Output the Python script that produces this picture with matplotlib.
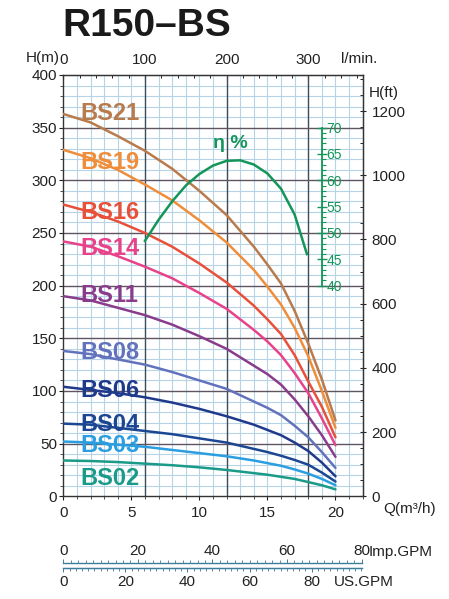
import numpy as np
import matplotlib
matplotlib.use("Agg")
import matplotlib.pyplot as plt
from matplotlib.ticker import MultipleLocator, FixedLocator

plt.rcParams['font.family'] = ['Liberation Sans', 'DejaVu Sans']

# ---------------- data ----------------
flow_q = [0, 2, 4, 6, 8, 10, 12, 14, 15, 16, 17, 18, 19, 20]          # m3/h
models = ["BS21", "BS19", "BS16", "BS14", "BS11", "BS08", "BS06", "BS04", "BS03", "BS02"]
head_bs21 = [363, 355, 342, 328, 311, 290, 267, 237, 220, 202, 176, 145, 111, 72]
head_bs19 = [329, 321, 310, 296, 281, 262, 241, 215, 199, 182, 160, 133, 100, 65]
head_bs16 = [277, 270, 261, 250, 237, 221, 203, 181, 168, 154, 134, 109, 85, 56]
head_bs14 = [242, 237, 228, 218, 207, 193, 178, 158, 147, 134, 117, 98, 74, 48.5]
head_bs11 = [190, 186, 179, 172, 163, 152, 140, 124, 116, 106, 92, 76, 58, 37.5]
head_bs08 = [138, 135, 130, 125, 118, 110, 102, 90, 84, 77, 67, 56, 42, 27]
head_bs06 = [104, 101, 98, 94, 89, 83, 76, 68, 63, 58, 51, 43, 32, 19]
head_bs04 = [69, 68, 65, 62, 59, 55, 51, 45, 42, 38.5, 34.5, 30, 22.5, 14]
head_bs03 = [52, 51, 49, 47, 44, 41, 38, 34, 31.5, 29, 25.5, 21.5, 16.5, 10.5]
head_bs02 = [34, 33.5, 32.5, 31, 29.5, 27.5, 25, 22, 20.5, 18.5, 16.5, 13.5, 10.5, 6.6]
heads = [head_bs21, head_bs19, head_bs16, head_bs14, head_bs11,
         head_bs08, head_bs06, head_bs04, head_bs03, head_bs02]

eff_q = [6, 7, 8, 9, 10, 11, 12, 13, 14, 15, 16, 17, 17.9]
eff_pct = [48.5, 52.5, 56.0, 59.0, 61.2, 62.8, 63.7, 63.8, 63.0, 61.3, 58.4, 53.5, 46.0]

x_ticks = [0, 5, 10, 15, 20]
y_ticks = [0, 50, 100, 150, 200, 250, 300, 350, 400]
lmin_ticks = [0, 100, 200, 300]
ft_ticks = [0, 200, 400, 600, 800, 1000, 1200]
eff_ticks = [40, 45, 50, 55, 60, 65, 70]
imp_ticks = [0, 20, 40, 60, 80]
us_ticks = [0, 20, 40, 60, 80]

# ---------------- style ----------------
colors = ['#b97a4c', '#f08d3a', '#e8503a', '#e8428a', '#8a3c8c',
          '#6272bc', '#1f3a8c', '#1c4692', '#2a9ee0', '#1a9a88']
label_pos = [(1.25, 363), (1.25, 317), (1.25, 269), (1.25, 235), (1.25, 191),
             (1.25, 137), (1.25, 100), (1.25, 68), (1.25, 48), (1.25, 17)]
green = '#14965a'

W, H = 449, 599
fig = plt.figure(figsize=(W / 100, H / 100), dpi=100)
L, R = 63.3 / W, 362.7 / W
B, T = 1 - 496.3 / H, 1 - 75 / H
ax = fig.add_axes([L, B, R - L, T - B])
ax.set_xlim(0, 22)
ax.set_ylim(0, 400)

# grid
for q in range(1, 22):
    if q % 6 == 0:
        ax.axvline(q, color='#3c4c58', lw=1.0, zorder=1)
    else:
        ax.axvline(q, color='#b6d4e6', lw=0.8, zorder=0.5)
for h in range(10, 400, 10):
    if h % 50 == 0:
        ax.axhline(h, color='#5e5560', lw=1.0, zorder=1)
    else:
        ax.axhline(h, color='#b6d4e6', lw=0.8, zorder=0.5)

for sp in ax.spines.values():
    sp.set_color('#333333')
    sp.set_linewidth(1.0)

ax.xaxis.set_major_locator(FixedLocator(x_ticks))
ax.xaxis.set_minor_locator(MultipleLocator(1))
ax.yaxis.set_major_locator(FixedLocator(y_ticks))
ax.yaxis.set_minor_locator(MultipleLocator(10))
ax.tick_params(axis='both', which='major', direction='out', length=3, width=0.8,
               labelsize=11, colors='#222222')
ax.tick_params(axis='both', which='minor', direction='out', length=2, width=0.6, colors='#333333')
ax.tick_params(axis='x', pad=4)
ax.tick_params(axis='y', pad=1.5)

# top l/min axis
top = ax.secondary_xaxis('top', functions=(lambda q: q * 1000 / 60, lambda l: l * 60 / 1000))
top.xaxis.set_major_locator(FixedLocator(lmin_ticks))
top.xaxis.set_minor_locator(MultipleLocator(20))
top.tick_params(which='major', direction='in', length=3, width=0.8, labelsize=11, pad=6, colors='#222222')
top.tick_params(which='minor', direction='in', length=2.5, width=0.6)
top.spines['top'].set_color('#333333')

# right ft axis
right = ax.secondary_yaxis('right', functions=(lambda m: m / 0.3048, lambda f: f * 0.3048))
right.yaxis.set_major_locator(FixedLocator(ft_ticks))
right.yaxis.set_minor_locator(MultipleLocator(50))
right.tick_params(which='major', direction='inout', length=5, width=0.8, labelsize=11, pad=4, colors='#222222')
right.tick_params(which='minor', direction='in', length=2.5, width=0.6)
right.spines['right'].set_color('#333333')

# head curves
for name, hv, c, (lx, ly) in zip(models, heads, colors, label_pos):
    ax.plot(flow_q, hv, color=c, lw=1.8, zorder=3, solid_capstyle='round',
            solid_joinstyle='round')
    ax.text(lx, ly, name, color=c, fontsize=17, fontweight='bold',
            ha='left', va='center', zorder=4)

# efficiency curve on twin axis: eff 0..80 maps to H 0..400
ax_e = ax.twinx()
ax_e.set_ylim(0, 80)
ax_e.axis('off')
ax_e.plot(eff_q, eff_pct, color=green, lw=1.8, zorder=3, solid_joinstyle='round')
ax.text(12.3, 335, "η %", color=green, fontsize=14, fontweight='bold', ha='center', va='center')

# efficiency scale
ex = L + (R - L) * 19.0 / 22
eb = B + (T - B) * 200 / 400
eh = (T - B) * 150 / 400
sc = fig.add_axes([ex - 0.001, eb, 0.001, eh])
sc.set_ylim(40, 70)
sc.patch.set_visible(False)
for k in ['left', 'top', 'bottom']:
    sc.spines[k].set_visible(False)
sc.spines['right'].set_color(green)
sc.spines['right'].set_linewidth(1.3)
sc.set_xticks([])
sc.yaxis.tick_right()
sc.yaxis.set_major_locator(FixedLocator(eff_ticks))
sc.yaxis.set_minor_locator(MultipleLocator(1))
sc.tick_params(axis='y', which='major', direction='inout', length=7, width=1.0,
               colors=green, labelsize=10, pad=0)
sc.tick_params(axis='y', which='minor', direction='out', length=3, width=0.8, colors=green)

# axis titles
fig.text(60 / W, 1 - 58 / H, "H(m)", fontsize=11, ha='right', va='center', color='#222222')
fig.text(341 / W, 1 - 59 / H, "l/min.", fontsize=11, ha='left', va='center', color='#222222')
fig.text(369 / W, 1 - 93 / H, "H(ft)", fontsize=11, ha='left', va='center', color='#222222')
fig.text(383 / W, 1 - 509 / H, "Q(m³/h)", fontsize=11, ha='left', va='center', color='#222222')
fig.text(62 / W, 1 - 26 / H, "R150–BS", fontsize=28, fontweight='bold', ha='left',
         va='center', color='#1a1a1a')

# GPM scales
gl, gr = 63.3 / W, 361.6 / W
ag = fig.add_axes([gl, 1 - 568.3 / H, gr - gl, 5 / H])
ag.set_xlim(0, 80)
ag.set_yticks([])
ag.patch.set_visible(False)
for k in ['left', 'right']:
    ag.spines[k].set_visible(False)
for k in ['top', 'bottom']:
    ag.spines[k].set_color('#3d7f9c')
    ag.spines[k].set_linewidth(1.0)
ag.xaxis.tick_top()
ag.xaxis.set_major_locator(FixedLocator(imp_ticks))
ag.xaxis.set_minor_locator(MultipleLocator(2))
ag.tick_params(axis='x', which='major', direction='out', length=3, width=0.7,
               labelsize=11, pad=0.5, color='#3d7f9c', labelcolor='#222222')
ag.tick_params(axis='x', which='minor', direction='out', length=2, width=0.6, color='#3d7f9c')
us = ag.secondary_xaxis('bottom', functions=(lambda g: g * 1.20095, lambda g: g / 1.20095))
us.xaxis.set_major_locator(FixedLocator(us_ticks))
us.xaxis.set_minor_locator(MultipleLocator(2))
us.tick_params(which='major', direction='out', length=3, width=0.7, labelsize=11, pad=2,
               color='#3d7f9c', labelcolor='#222222')
us.tick_params(which='minor', direction='out', length=2, width=0.6, color='#3d7f9c')
us.spines['bottom'].set_color('#3d7f9c')
fig.text(369 / W, 1 - 552 / H, "Imp.GPM", fontsize=11, ha='left', va='center', color='#222222')
fig.text(334 / W, 1 - 582 / H, "US.GPM", fontsize=11, ha='left', va='center', color='#222222')

fig.savefig("out.png", dpi=100, facecolor='white')
